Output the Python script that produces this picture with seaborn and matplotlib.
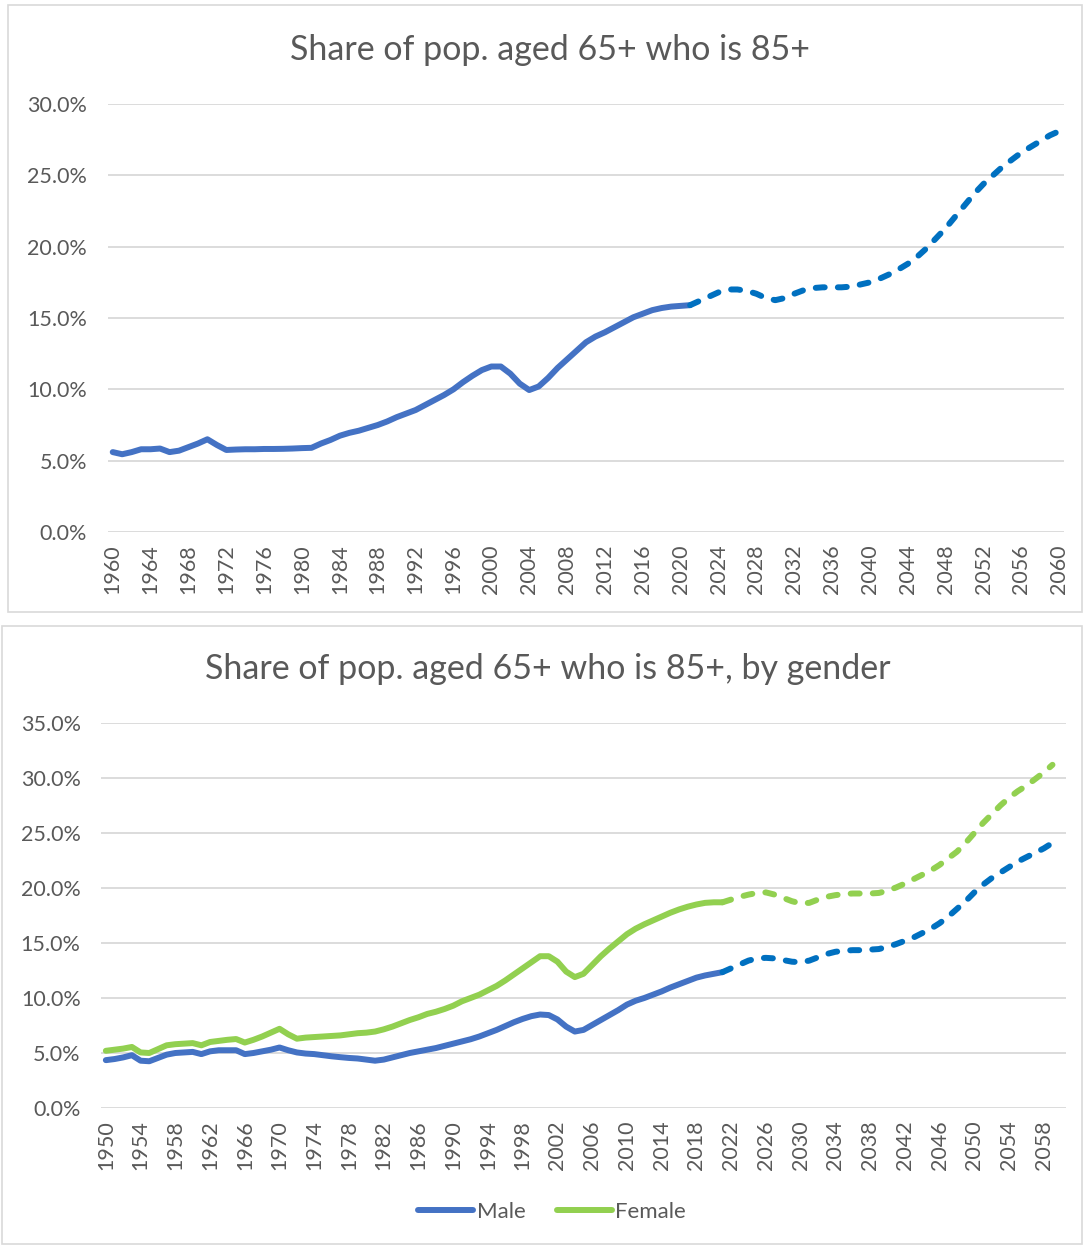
"""
Share of population aged 65+ who is 85+ (total, and by gender)
Recreated Excel-style line charts with seaborn
"""

import numpy as np
import pandas as pd
import matplotlib.pyplot as plt
import seaborn as sns
from matplotlib.patches import Rectangle
from matplotlib.lines import Line2D

sns.set_style("white")
plt.rcParams['font.family'] = ['Lato', 'DejaVu Sans']

# ---- data (percent) ----
total_years = list(range(1960, 2061))
total_hist = [5.6, 5.45, 5.6, 5.8, 5.8, 5.85, 5.6, 5.7, 5.95, 6.2,
              6.5, 6.1, 5.75, 5.78, 5.8, 5.8, 5.82, 5.82, 5.83, 5.85,
              5.88, 5.9, 6.2, 6.45, 6.75, 6.95, 7.1, 7.3, 7.5, 7.75,
              8.05, 8.3, 8.55, 8.9, 9.25, 9.6, 10.0, 10.5, 10.95, 11.35,
              11.6, 11.6, 11.1, 10.4, 9.95, 10.2, 10.8, 11.5, 12.1, 12.7,
              13.3, 13.7, 14.0, 14.35, 14.7, 15.05, 15.3, 15.55, 15.7, 15.8,
              15.85, 15.9]
total_proj = [15.9, 16.2, 16.5, 16.8, 17.0, 17.0, 16.9, 16.7, 16.4, 16.25,
              16.4, 16.7, 16.95, 17.1, 17.15, 17.15, 17.15, 17.2, 17.35, 17.5,
              17.75, 18.05, 18.4, 18.8, 19.3, 19.9, 20.6, 21.3, 22.1, 22.9,
              23.7, 24.4, 25.0, 25.6, 26.1, 26.6, 27.0, 27.4, 27.8, 28.1]

gender_years = list(range(1950, 2061))
male_hist = [4.35, 4.45, 4.6, 4.8, 4.3, 4.25, 4.55, 4.85, 5.0, 5.05,
             5.1, 4.9, 5.15, 5.25, 5.25, 5.25, 4.9, 5.0, 5.15, 5.3,
             5.5, 5.25, 5.05, 4.95, 4.9, 4.8, 4.7, 4.62, 4.55, 4.5,
             4.4, 4.3, 4.4, 4.6, 4.8, 5.0, 5.15, 5.3, 5.45, 5.65,
             5.85, 6.05, 6.25, 6.5, 6.8, 7.1, 7.45, 7.8, 8.1, 8.35,
             8.5, 8.45, 8.05, 7.4, 6.95, 7.1, 7.55, 8.0, 8.45, 8.9,
             9.4, 9.75, 10.0, 10.3, 10.6, 10.95, 11.25, 11.55, 11.85, 12.05,
             12.2, 12.35]
male_proj = [12.35, 12.7, 13.05, 13.4, 13.6, 13.65, 13.6, 13.45, 13.3, 13.25,
             13.4, 13.7, 14.0, 14.2, 14.3, 14.35, 14.35, 14.4, 14.45, 14.65,
             14.9, 15.2, 15.5, 15.9, 16.3, 16.8, 17.4, 18.1, 18.8, 19.6,
             20.3, 20.9, 21.4, 21.9, 22.4, 22.8, 23.2, 23.6, 24.1]
female_hist = [5.2, 5.3, 5.4, 5.55, 5.05, 5.0, 5.35, 5.7, 5.8, 5.85,
               5.9, 5.7, 6.0, 6.1, 6.2, 6.27, 5.95, 6.2, 6.5, 6.85,
               7.2, 6.7, 6.3, 6.4, 6.45, 6.5, 6.55, 6.6, 6.7, 6.8,
               6.85, 6.95, 7.15, 7.4, 7.7, 8.0, 8.25, 8.55, 8.75, 9.0,
               9.3, 9.7, 10.0, 10.3, 10.7, 11.1, 11.6, 12.15, 12.7, 13.25,
               13.8, 13.8, 13.3, 12.4, 11.9, 12.2, 13.0, 13.8, 14.5, 15.15,
               15.8, 16.3, 16.7, 17.05, 17.4, 17.75, 18.05, 18.3, 18.5, 18.65,
               18.7, 18.7]
female_proj = [18.7, 18.95, 19.2, 19.4, 19.55, 19.6, 19.4, 19.1, 18.8, 18.6,
               18.65, 18.95, 19.2, 19.35, 19.45, 19.5, 19.5, 19.5, 19.55, 19.75,
               20.05, 20.4, 20.8, 21.2, 21.6, 22.1, 22.7, 23.3, 24.1, 25.0,
               25.9, 26.7, 27.5, 28.2, 28.8, 29.3, 29.9, 30.5, 31.2]

# Colors (Excel defaults)
SOLID_BLUE = '#4472C4'
DASH_BLUE = '#0070C0'
GREEN = '#92D050'
GRID = '#D9D9D9'
TEXT = '#595959'

W, H = 1083, 1245
LW = 4.3
DASH = (1.5, 2.2)
TICK_FS = 15.5
TITLE_FS = 24.5


def fx(px):
    return px / W


def fy(py):
    return 1 - py / H


def series_df(years, hist, proj):
    """Index positions (category axis) for historic and projected parts"""
    n_hist = len(hist)
    hist_df = pd.DataFrame({'pos': np.arange(n_hist), 'val': hist})
    start = n_hist - 1
    proj_df = pd.DataFrame({'pos': np.arange(start, start + len(proj)), 'val': proj})
    return hist_df, proj_df


def style_axis(ax, years, ymax):
    n = len(years)
    ax.set_xlim(-0.5, n - 0.5)
    ax.set_ylim(0, ymax)
    ax.set_yticks(np.arange(0, ymax + 0.1, 5))
    ax.set_yticklabels([f"{v:.1f}%" for v in np.arange(0, ymax + 0.1, 5)])
    ticks = list(range(0, n, 4))
    ax.set_xticks(ticks)
    ax.set_xticklabels([str(years[i]) for i in ticks], rotation=90)
    ax.tick_params(axis='both', length=0, labelsize=TICK_FS, labelcolor=TEXT)
    ax.tick_params(axis='x', pad=9)
    ax.tick_params(axis='y', pad=15)
    ax.grid(axis='y', color=GRID, linewidth=1.3)
    ax.set_axisbelow(True)
    for s in ax.spines.values():
        s.set_visible(False)
    ax.set_xlabel('')
    ax.set_ylabel('')


fig = plt.figure(figsize=(W / 100, H / 100), dpi=100)

# chart frames
fig.patches.append(Rectangle((fx(8), fy(612)), fx(1082) - fx(8), fy(5) - fy(612),
                             transform=fig.transFigure, fill=False,
                             edgecolor=GRID, linewidth=1.2))
fig.patches.append(Rectangle((fx(2), fy(1244)), fx(1082) - fx(2), fy(626) - fy(1244),
                             transform=fig.transFigure, fill=False,
                             edgecolor=GRID, linewidth=1.2))

# ---- top chart ----
ax1 = fig.add_axes([fx(108), fy(532), fx(1064) - fx(108), fy(104) - fy(532)])
h_df, p_df = series_df(total_years, total_hist, total_proj)
sns.lineplot(data=h_df, x='pos', y='val', ax=ax1, color=SOLID_BLUE, linewidth=LW,
             solid_capstyle='round', solid_joinstyle='round')
sns.lineplot(data=p_df, x='pos', y='val', ax=ax1, color=DASH_BLUE, linewidth=LW,
             dashes=DASH, dash_capstyle='round', dash_joinstyle='round')
style_axis(ax1, total_years, 30)
fig.text(fx(550), fy(50), 'Share of pop. aged 65+ who is 85+', ha='center', va='center',
         fontsize=TITLE_FS, color=TEXT)

# ---- bottom chart ----
ax2 = fig.add_axes([fx(101.5), fy(1108), fx(1065.5) - fx(101.5), fy(723) - fy(1108)])
mh, mp = series_df(gender_years, male_hist, male_proj)
fh, fp = series_df(gender_years, female_hist, female_proj)
sns.lineplot(data=mh, x='pos', y='val', ax=ax2, color=SOLID_BLUE, linewidth=LW,
             solid_capstyle='round', solid_joinstyle='round')
sns.lineplot(data=mp, x='pos', y='val', ax=ax2, color=DASH_BLUE, linewidth=LW,
             dashes=DASH, dash_capstyle='round', dash_joinstyle='round')
sns.lineplot(data=fh, x='pos', y='val', ax=ax2, color=GREEN, linewidth=LW,
             solid_capstyle='round', solid_joinstyle='round')
sns.lineplot(data=fp, x='pos', y='val', ax=ax2, color=GREEN, linewidth=LW,
             dashes=DASH, dash_capstyle='round', dash_joinstyle='round')
style_axis(ax2, gender_years, 35)
fig.text(fx(548), fy(669), 'Share of pop. aged 65+ who is 85+, by gender', ha='center',
         va='center', fontsize=TITLE_FS, color=TEXT)

handles = [Line2D([], [], color=SOLID_BLUE, linewidth=LW, solid_capstyle='round'),
           Line2D([], [], color=GREEN, linewidth=LW, solid_capstyle='round')]
leg = fig.legend(handles, ['Male', 'Female'], loc='center', ncol=2,
                 bbox_to_anchor=(fx(552), fy(1212)), frameon=False,
                 fontsize=16, handlelength=2.5, handletextpad=0.15,
                 columnspacing=1.4, labelcolor=TEXT)

plt.savefig('out.png', dpi=100, facecolor='white')
